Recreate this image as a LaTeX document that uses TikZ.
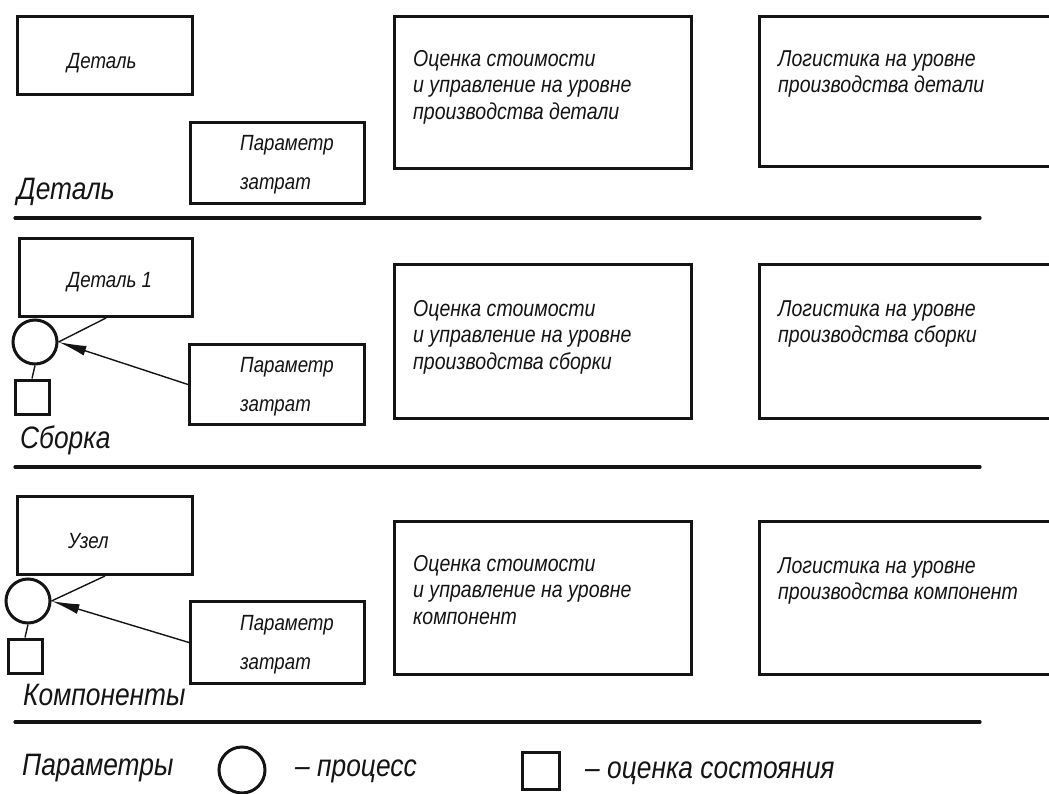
\documentclass[tikz,border=0pt]{standalone}
\usepackage{fontspec}
\usepackage{tikz}
\usetikzlibrary{arrows.meta,positioning,shapes.geometric,calc}
\newfontfamily\gostfont[FakeStretch=0.85]{Liberation Sans}
\definecolor{sketchInk}{HTML}{141414}
\tikzset{
  frameBox/.style={
    rectangle,
    draw=sketchInk,
    line width=3pt,
    inner sep=0pt,
    anchor=north west
  },
  boxText/.style={
    anchor=north west,
    inner sep=0pt,
    align=left,
    text=sketchInk,
    font=\gostfont\itshape\fontsize{22}{39}\selectfont
  },
  wideText/.style={
    anchor=north west,
    inner sep=0pt,
    align=left,
    text=sketchInk,
    font=\gostfont\itshape\fontsize{23}{26.5}\selectfont
  },
  levelText/.style={
    anchor=base west,
    inner sep=0pt,
    text=sketchInk,
    font=\gostfont\itshape\fontsize{31}{36}\selectfont
  },
  legendText/.style={
    levelText,
    font=\gostfont\itshape\fontsize{31}{36}\selectfont
  },
  process/.style={
    circle,
    draw=sketchInk,
    line width=3pt,
    minimum size=44pt,
    inner sep=0pt
  },
  stateBox/.style={
    rectangle,
    draw=sketchInk,
    line width=3pt,
    minimum size=34pt,
    inner sep=0pt
  },
  link/.style={
    line width=1.4pt,
    draw=sketchInk
  },
  arrow/.style={
    -{Latex[length=28pt,width=10pt]},
    line width=1.4pt,
    draw=sketchInk
  },
  levelLine/.style={
    line width=3.2pt,
    draw=sketchInk,
    line cap=round
  }
}

\begin{document}
\begin{tikzpicture}[x=1pt,y=-1pt]
  \clip (0,0) rectangle (1049,794);
  % level: detail
  \node[frameBox,minimum width=175pt,minimum height=78pt] (det) at (16,15) {};
  \node[boxText] (detText) at (67,53) {Деталь};
  \node[frameBox,minimum width=174pt,minimum height=81pt] (parA) at (189,121) {};
  \node[boxText] (parAText) at (240,135) {Параметр\\затрат};
  \node[frameBox,minimum width=297pt,minimum height=152pt] (costA) at (393,15) {};
  \node[wideText] (costAText) at (413,50) {Оценка стоимости\\и управление на уровне\\производства детали};
  \node[frameBox,minimum width=320pt,minimum height=150pt] (logA) at (758,15) {};
  \node[wideText] (logAText) at (778,50) {Логистика на уровне\\производства детали};
  \node[levelText] (levA) at (17,200) {Деталь};
  \draw[levelLine] (15,218) -- (980,218);

  % level: assembly
  \node[frameBox,minimum width=173pt,minimum height=78pt] (detOne) at (18,237) {};
  \node[boxText] (detOneText) at (67,272) {Деталь 1};
  \node[process] (procB) at (35,342) {};
  \node[stateBox] (stateB) at (32,397) {};
  \node[frameBox,minimum width=175pt,minimum height=80pt] (parB) at (188,343) {};
  \node[boxText] (parBText) at (240,357) {Параметр\\затрат};
  \node[frameBox,minimum width=297pt,minimum height=154pt] (costB) at (393,263) {};
  \node[wideText] (costBText) at (413,300) {Оценка стоимости\\и управление на уровне\\производства сборки};
  \node[frameBox,minimum width=320pt,minimum height=154pt] (logB) at (758,263) {};
  \node[wideText] (logBText) at (778,300) {Логистика на уровне\\производства сборки};
  \node[levelText] (levB) at (20,448) {Сборка};
  \draw[link] (detOne.south) -- (procB.east);
  \draw[arrow] (parB.west) -- (procB.east);
  \draw[link] (procB.south) -- (stateB.north);
  \draw[levelLine] (15,467) -- (980,467);

  % level: components
  \node[frameBox,minimum width=175pt,minimum height=78pt] (unit) at (16,495) {};
  \node[boxText] (unitText) at (68,533) {Узел};
  \node[process] (procC) at (28,601) {};
  \node[stateBox] (stateC) at (25,656) {};
  \node[frameBox,minimum width=174pt,minimum height=82pt] (parC) at (189,600) {};
  \node[boxText] (parCText) at (240,615) {Параметр\\затрат};
  \node[frameBox,minimum width=297pt,minimum height=153pt] (costC) at (393,520) {};
  \node[wideText] (costCText) at (413,555) {Оценка стоимости\\и управление на уровне\\компонент};
  \node[frameBox,minimum width=320pt,minimum height=153pt] (logC) at (758,520) {};
  \node[wideText] (logCText) at (778,557) {Логистика на уровне\\производства компонент};
  \node[levelText] (levC) at (23,705) {Компоненты};
  \draw[link] (unit.south) -- (procC.east);
  \draw[arrow] (parC.west) -- (procC.east);
  \draw[link] (procC.south) -- (stateC.north);
  \draw[levelLine] (15,722) -- (980,722);

  % legend
  \node[legendText] (legTitle) at (22,775) {Параметры};
  \node[process,minimum size=46pt] (legProc) at (242,770) {};
  \node[legendText] (legProcText) at (295,776) {– процесс};
  \node[stateBox,minimum size=37pt] (legState) at (541,771) {};
  \node[legendText] (legStateText) at (585,778) {– оценка состояния};
\end{tikzpicture}
\end{document}
